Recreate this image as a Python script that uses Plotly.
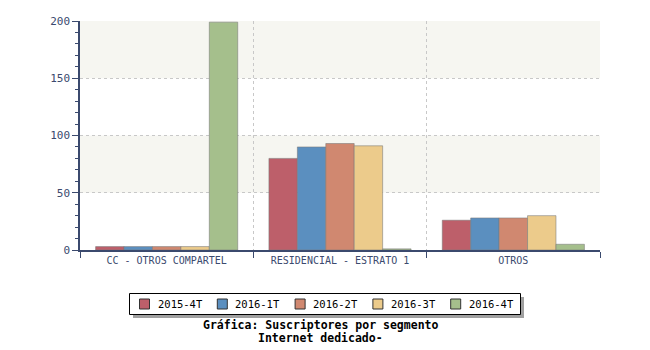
import plotly.graph_objects as go

categories = ["CC - OTROS COMPARTEL", "RESIDENCIAL - ESTRATO 1", "OTROS"]
periods = ["2015-4T", "2016-1T", "2016-2T", "2016-3T", "2016-4T"]
values = {
    "2015-4T": [3, 80, 26],
    "2016-1T": [3, 90, 28],
    "2016-2T": [3, 93, 28],
    "2016-3T": [3, 91, 30],
    "2016-4T": [199, 1, 5],
}
colors = ["#bd5f6a", "#5b8fbf", "#d08870", "#eccb8b", "#a5bf8c"]
y_ticks = [0, 50, 100, 150, 200]
title_lines = ["Gráfica: Suscriptores por segmento", "Internet dedicado-"]

axis_color = "#3b4a6e"
mono = "DejaVu Sans Mono"

# plot area geometry in pixels (used to place the legend box below it)
PL, PR, PT, PB = 80, 600, 21, 250


def px_x(x):
    return (x - PL) / (PR - PL)


def px_y(y):
    return (PB - y) / (PB - PT)


fig = go.Figure()
for name, col in zip(periods, colors):
    fig.add_trace(go.Bar(
        x=categories, y=values[name], name=name, showlegend=False,
        marker=dict(color=col, line=dict(color="rgba(120,120,120,0.55)", width=1)),
    ))

# alternating horizontal bands
for lo, hi in [(150, 200), (50, 100)]:
    fig.add_shape(type="rect", xref="paper", yref="y", x0=0, x1=1, y0=lo, y1=hi,
                  fillcolor="#f6f6f1", line=dict(width=0), layer="below")

# legend box with drop shadow
fig.add_shape(type="rect", xref="paper", yref="paper",
              x0=px_x(133), x1=px_x(524), y0=px_y(318), y1=px_y(297),
              fillcolor="#a0a0a0", line=dict(width=0))
fig.add_shape(type="rect", xref="paper", yref="paper",
              x0=px_x(129.5), x1=px_x(520.5), y0=px_y(314.5), y1=px_y(293.5),
              fillcolor="white", line=dict(color="black", width=1))
for i, (name, col) in enumerate(zip(periods, colors)):
    x0 = 139.5 + i * 77.8
    fig.add_shape(type="rect", xref="paper", yref="paper",
                  x0=px_x(x0), x1=px_x(x0 + 10), y0=px_y(309), y1=px_y(299),
                  fillcolor=col, line=dict(color="#333333", width=1))
    fig.add_annotation(text=name, xref="paper", yref="paper",
                       x=px_x(x0 + 16), y=px_y(304), xanchor="left", yanchor="middle",
                       showarrow=False,
                       font=dict(family=mono, size=10.5, color="#000000"))

for k, line in enumerate(title_lines):
    fig.add_annotation(
        text=f"<b>{line}</b>",
        xref="paper", yref="paper", x=px_x(320), y=px_y(325 + 13 * k),
        xanchor="center", yanchor="middle", showarrow=False,
        font=dict(family=mono, size=11.5, color="#000000"),
    )

fig.update_layout(
    width=650, height=350,
    margin=dict(l=PL, r=650 - PR, t=PT, b=350 - PB, autoexpand=False),
    paper_bgcolor="white", plot_bgcolor="white",
    barmode="group", bargap=0.18, bargroupgap=0,
    font=dict(family=mono, size=10, color=axis_color),
    showlegend=False,
)

fig.update_xaxes(
    type="category", tickson="boundaries",
    showline=True, linecolor=axis_color, linewidth=1.5,
    ticks="outside", ticklen=6, tickcolor=axis_color,
    showgrid=True, gridcolor="#c8c8c8", griddash="dot", gridwidth=1,
    tickfont=dict(family=mono, size=10, color=axis_color),
)
fig.update_yaxes(
    range=[0, 200], tickvals=y_ticks,
    showline=True, linecolor=axis_color, linewidth=1.5,
    ticks="outside", ticklen=6, tickcolor=axis_color,
    minor=dict(dtick=10, ticks="outside", ticklen=3, tickcolor=axis_color, showgrid=False),
    showgrid=True, gridcolor="#c8c8c8", griddash="dot", gridwidth=1,
    zeroline=False,
    tickfont=dict(family=mono, size=11, color=axis_color),
)

fig.write_html("out.html")
